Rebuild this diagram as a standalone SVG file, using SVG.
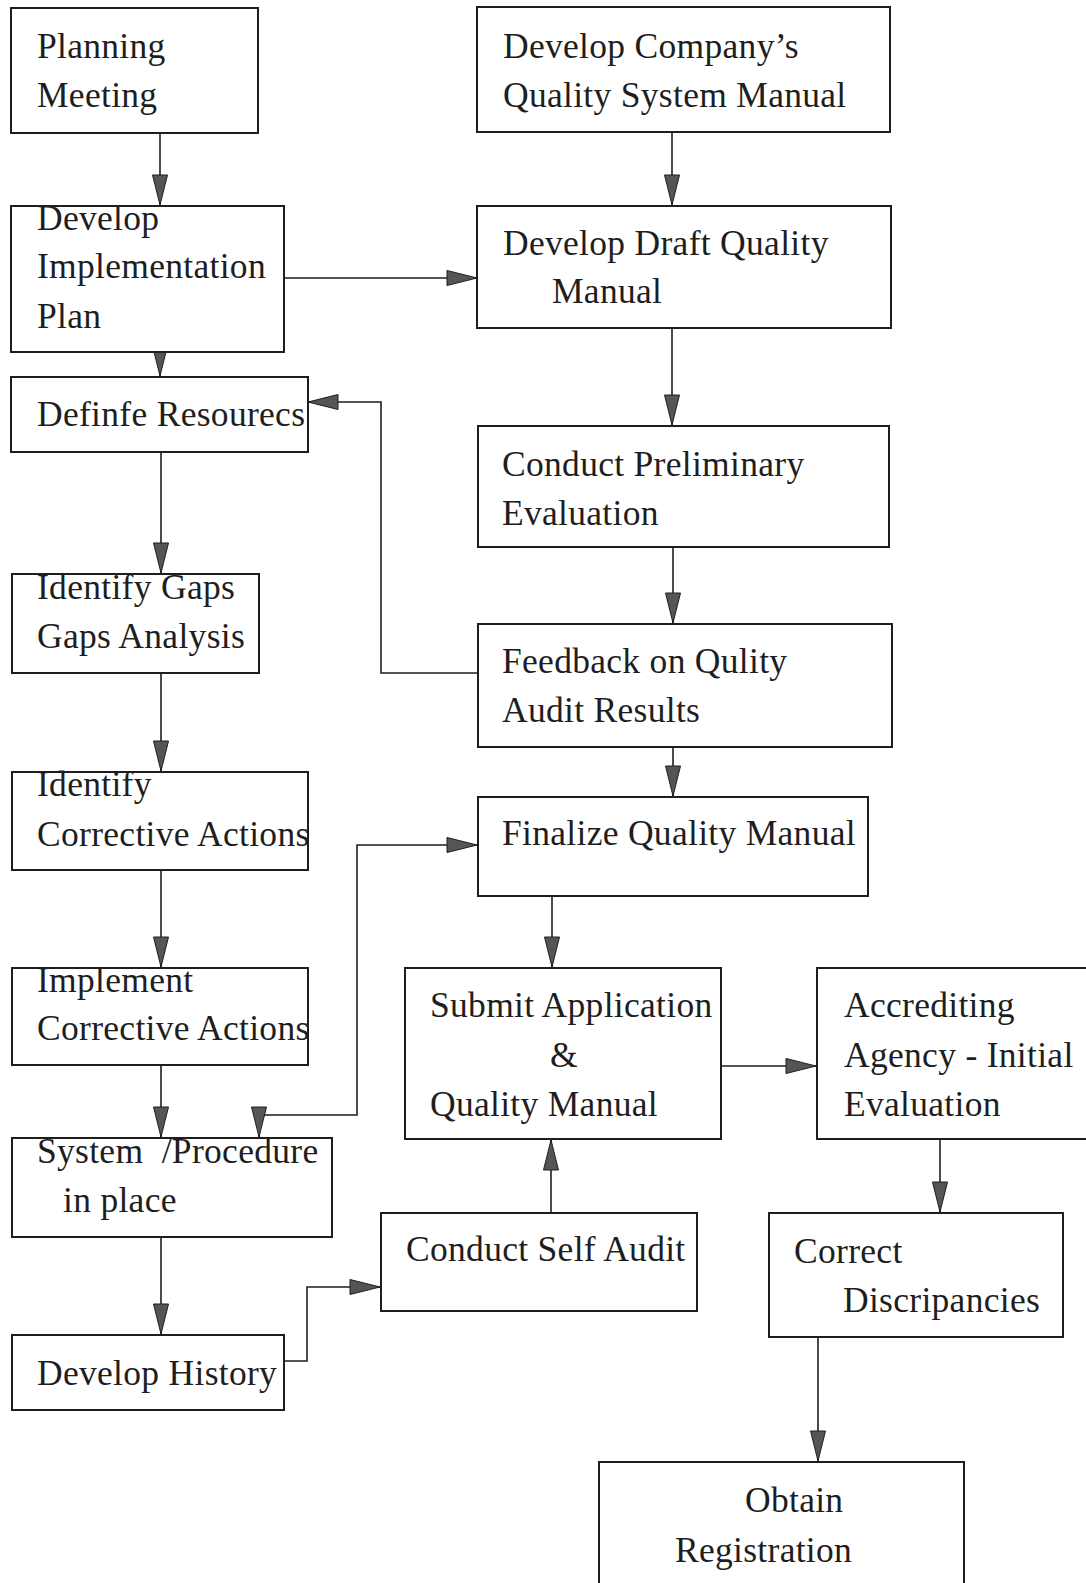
<svg xmlns="http://www.w3.org/2000/svg" width="1086" height="1583" viewBox="0 0 1086 1583">
  <style>
    .box { fill: #ffffff; stroke: #1e1e1e; stroke-width: 2; }
    .lbl { font-family: "Liberation Serif", "Times New Roman", serif; font-size: 35.5px; letter-spacing: 0.3px; fill: #1e1e1e; }
    .wire { fill: none; stroke: #1e1e1e; stroke-width: 1.6; marker-end: url(#head); }
  </style>
  <defs>
    <marker id="head" markerUnits="userSpaceOnUse" viewBox="-1 -1 32 17" markerWidth="32" markerHeight="17" refX="30" refY="7.5" orient="auto-start-reverse">
      <path d="M0,0 L30,7.5 L0,15 Z" fill="#555555" stroke="#1e1e1e" stroke-width="1"/>
    </marker>
  </defs>
  <rect width="1086" height="1583" fill="#ffffff"/>

  <!-- connectors -->
  <g id="connectors">
    <path class="wire" d="M160,133 V205"/>
    <path class="wire" d="M160,352 V376"/>
    <path class="wire" d="M284,278 H477"/>
    <path class="wire" d="M672,132 V205"/>
    <path class="wire" d="M672,328 V425"/>
    <path class="wire" d="M673,547 V623"/>
    <path class="wire" d="M478,673 H381 V402 H308"/>
    <path class="wire" d="M673,747 V796"/>
    <path class="wire" d="M161,452 V573"/>
    <path class="wire" d="M161,673 V771"/>
    <path class="wire" d="M161,870 V967"/>
    <path class="wire" d="M161,1065 V1137"/>
    <path class="wire" d="M259,1137 V1115 H357 V845 H477" marker-start="url(#head)"/>
    <path class="wire" d="M552,896 V967"/>
    <path class="wire" d="M161,1237 V1334"/>
    <path class="wire" d="M284,1361 H307 V1287 H380"/>
    <path class="wire" d="M551,1213 V1140"/>
    <path class="wire" d="M721,1066 H816"/>
    <path class="wire" d="M940,1139 V1212"/>
    <path class="wire" d="M818,1337 V1461"/>
  </g>

  <!-- left column -->
  <g id="planning-meeting">
    <rect class="box" x="11" y="8" width="247" height="125"/>
    <text class="lbl" x="37" y="58">Planning</text>
    <text class="lbl" x="37" y="107">Meeting</text>
  </g>
  <g id="implementation-plan">
    <rect class="box" x="11" y="206" width="273" height="146"/>
    <text class="lbl" x="37" y="230">Develop</text>
    <text class="lbl" x="37" y="278">Implementation</text>
    <text class="lbl" x="37" y="328">Plan</text>
  </g>
  <g id="define-resources">
    <rect class="box" x="11" y="377" width="297" height="75"/>
    <text class="lbl" x="37" y="426">Definfe Resourecs</text>
  </g>
  <g id="identify-gaps">
    <rect class="box" x="12" y="574" width="247" height="99"/>
    <text class="lbl" x="37" y="599">Identify Gaps</text>
    <text class="lbl" x="37" y="648">Gaps Analysis</text>
  </g>
  <g id="identify-corrective">
    <rect class="box" x="12" y="772" width="296" height="98"/>
    <text class="lbl" x="37" y="796">Identify</text>
    <text class="lbl" x="37" y="846">Corrective Actions</text>
  </g>
  <g id="implement-corrective">
    <rect class="box" x="12" y="968" width="296" height="97"/>
    <text class="lbl" x="37" y="992">Implement</text>
    <text class="lbl" x="37" y="1040">Corrective Actions</text>
  </g>
  <g id="system-procedure">
    <rect class="box" x="12" y="1138" width="320" height="99"/>
    <text class="lbl" x="37" y="1163">System&#160; /Procedure</text>
    <text class="lbl" x="63" y="1212">in place</text>
  </g>
  <g id="develop-history">
    <rect class="box" x="12" y="1335" width="272" height="75"/>
    <text class="lbl" x="37" y="1385">Develop History</text>
  </g>

  <!-- right column -->
  <g id="company-manual">
    <rect class="box" x="477" y="7" width="413" height="125"/>
    <text class="lbl" x="503" y="58">Develop Company’s</text>
    <text class="lbl" x="503" y="107">Quality System Manual</text>
  </g>
  <g id="draft-manual">
    <rect class="box" x="477" y="206" width="414" height="122"/>
    <text class="lbl" x="503" y="255">Develop Draft Quality</text>
    <text class="lbl" x="552" y="303">Manual</text>
  </g>
  <g id="preliminary-evaluation">
    <rect class="box" x="478" y="426" width="411" height="121"/>
    <text class="lbl" x="502" y="476">Conduct Preliminary</text>
    <text class="lbl" x="502" y="525">Evaluation</text>
  </g>
  <g id="audit-feedback">
    <rect class="box" x="478" y="624" width="414" height="123"/>
    <text class="lbl" x="502" y="673">Feedback on Qulity</text>
    <text class="lbl" x="502" y="722">Audit Results</text>
  </g>
  <g id="finalize-manual">
    <rect class="box" x="478" y="797" width="390" height="99"/>
    <text class="lbl" x="502" y="845">Finalize Quality Manual</text>
  </g>
  <g id="submit-application">
    <rect class="box" x="405" y="968" width="316" height="171"/>
    <text class="lbl" x="430" y="1017">Submit Application</text>
    <text class="lbl" x="550" y="1067">&amp;</text>
    <text class="lbl" x="430" y="1116">Quality Manual</text>
  </g>
  <g id="accrediting-agency">
    <rect class="box" x="817" y="968" width="280" height="171"/>
    <text class="lbl" x="844" y="1017">Accrediting</text>
    <text class="lbl" x="844" y="1067">Agency - Initial</text>
    <text class="lbl" x="844" y="1116">Evaluation</text>
  </g>
  <g id="self-audit">
    <rect class="box" x="381" y="1213" width="316" height="98"/>
    <text class="lbl" x="406" y="1261">Conduct Self Audit</text>
  </g>
  <g id="correct-discrepancies">
    <rect class="box" x="769" y="1213" width="294" height="124"/>
    <text class="lbl" x="794" y="1263">Correct</text>
    <text class="lbl" x="843" y="1312">Discripancies</text>
  </g>
  <g id="obtain-registration">
    <rect class="box" x="599" y="1462" width="365" height="140"/>
    <text class="lbl" x="745" y="1512">Obtain</text>
    <text class="lbl" x="675" y="1562">Registration</text>
  </g>
</svg>
